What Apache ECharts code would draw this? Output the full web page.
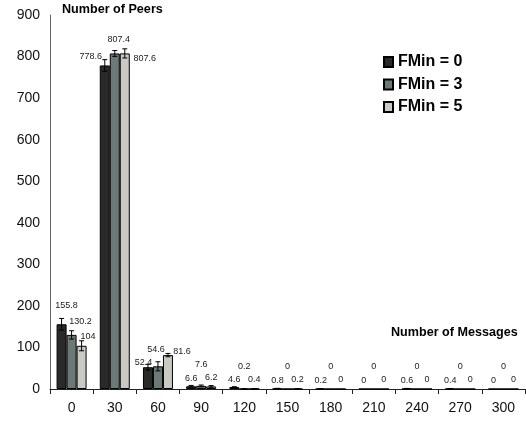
<!DOCTYPE html>
<html>
<head>
<meta charset="utf-8">
<script src="https://cdn.jsdelivr.net/npm/echarts@6/dist/echarts.min.js"></script>
<style>
  html, body { margin: 0; padding: 0; background: #fff; }
  #chart { width: 526px; height: 421px; }
</style>
</head>
<body>
<div id="chart"></div>
<script>
// 数据
const categories = ['0', '30', '60', '90', '120', '150', '180', '210', '240', '270', '300']
const fmin0 = [155.8, 778.6, 52.4, 6.6, 4.6, 0.8, 0.2, 0, 0.6, 0.4, 0]
const fmin3 = [130.2, 807.4, 54.6, 7.6, 0.2, 0, 0, 0, 0, 0, 0]
const fmin5 = [104, 807.6, 81.6, 6.2, 0.4, 0.2, 0, 0, 0, 0, 0]
const err0 = [14, 14, 7, 2, 1, 0.8, 0.4, 0, 0.8, 0.6, 0]
const err3 = [10, 7, 11, 2, 0.4, 0, 0, 0, 0, 0, 0]
const err5 = [12, 11, 4, 2, 0.6, 0.4, 0, 0, 0, 0, 0]
const seriesNames = ['FMin = 0', 'FMin = 3', 'FMin = 5']

// 标签微调 (dx, 距柱顶的高度)
const labelDx = [
  [5, -14, -4.5],
  [9, 4, -2],
  [6.5, 20, 14]
]
const labelUp = [
  [19, 9, 5],
  [14, 14.5, 17],
  [10, -4.5, 4]
]
const defaultUp = [8, 22, 9]

const colors = ['#2a2a28', '#6c7a77', '#c9cbc3']
const barW = 10

function barData (vals, s) {
  return vals.map((v, i) => {
    const dx = i < 3 ? labelDx[s][i] : 0
    const up = i < 3 ? labelUp[s][i] : defaultUp[s]
    return { value: v, label: { offset: [dx, -(up - 5)] } }
  })
}

function errData (vals, errs) {
  return vals.map((v, i) => [i, v, errs[i]])
}

function errSeries (s, vals, errs) {
  return {
    type: 'custom',
    name: seriesNames[s],
    z: 5,
    silent: true,
    renderItem: (params, api) => {
      const e = api.value(2)
      if (!e) return
      const shift = (s - 1) * barW
      const top = api.coord([api.value(0), api.value(1) + e])
      const bot = api.coord([api.value(0), api.value(1) - e])
      const x = top[0] + shift
      const st = { stroke: '#000', lineWidth: 1 }
      return {
        type: 'group',
        children: [
          { type: 'line', shape: { x1: x, y1: top[1], x2: x, y2: bot[1] }, style: st },
          { type: 'line', shape: { x1: x - 2.5, y1: top[1], x2: x + 2.5, y2: top[1] }, style: st },
          { type: 'line', shape: { x1: x - 2.5, y1: bot[1], x2: x + 2.5, y2: bot[1] }, style: st }
        ]
      }
    },
    encode: { x: 0, y: 1 },
    data: errData(vals, errs)
  }
}

function barSeries (s, vals) {
  return {
    name: seriesNames[s],
    type: 'bar',
    barWidth: barW,
    barGap: '0%',
    itemStyle: { color: colors[s], borderColor: '#000', borderWidth: 1 },
    label: {
      show: true,
      position: 'top',
      distance: 0,
      fontFamily: 'Liberation Sans, Arial',
      fontSize: 9,
      color: '#222'
    },
    data: barData(vals, s)
  }
}

const chart = echarts.init(document.getElementById('chart'))
const option = {
  animation: false,
  backgroundColor: '#fff',
  textStyle: { fontFamily: 'Liberation Sans, Arial' },
  grid: { left: 50, right: 1, top: 15, bottom: 32, containLabel: false },
  legend: {
    orient: 'vertical',
    left: 378,
    top: 49,
    icon: 'rect',
    itemWidth: 9,
    itemHeight: 10,
    itemGap: 6.5,
    data: seriesNames,
    textStyle: { fontSize: 16, fontWeight: 'bold', color: '#000', fontFamily: 'Liberation Sans, Arial' }
  },
  xAxis: {
    type: 'category',
    data: categories,
    axisLine: { lineStyle: { color: '#222', width: 1 } },
    axisTick: { show: true, length: 5, lineStyle: { color: '#222' } },
    axisLabel: { fontSize: 14, color: '#111', margin: 12 }
  },
  yAxis: {
    type: 'value',
    min: 0,
    max: 900,
    interval: 100,
    splitLine: { show: false },
    axisLine: { show: true, lineStyle: { color: '#666' } },
    axisTick: { show: false },
    axisLabel: { fontSize: 14, color: '#111', margin: 10 }
  },
  graphic: [
    {
      type: 'text', left: 62, top: 3,
      style: { text: 'Number of Peers', font: 'bold 12.6px Liberation Sans, Arial', fill: '#000' }
    },
    {
      type: 'text', left: 391, top: 326,
      style: { text: 'Number of Messages', font: 'bold 12.6px Liberation Sans, Arial', fill: '#000' }
    }
  ],
  series: [
    barSeries(0, fmin0),
    barSeries(1, fmin3),
    barSeries(2, fmin5),
    errSeries(0, fmin0, err0),
    errSeries(1, fmin3, err3),
    errSeries(2, fmin5, err5)
  ]
}
chart.setOption(option)
</script>
</body>
</html>
